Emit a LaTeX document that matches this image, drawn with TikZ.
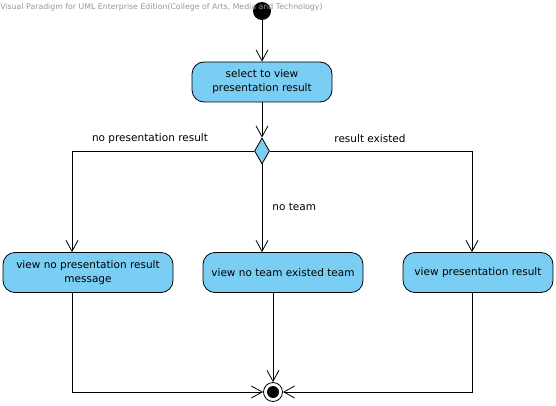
\documentclass[tikz,border=0pt]{standalone}
\usepackage{fontspec}
\setmainfont{DejaVu Sans}
\usetikzlibrary{shapes.geometric,arrows.meta}
\definecolor{actblue}{RGB}{122,206,244}
\definecolor{vpgray}{RGB}{150,150,150}
\begin{document}
\begin{tikzpicture}[x=1pt,y=-1pt,line width=0.8pt]
          \tikzstyle{act}=[draw,fill=actblue,rounded corners=12pt,minimum height=40pt,align=center,inner sep=2pt,font=\fontsize{10.5}{14}\selectfont];
          \tikzstyle{flow}=[-{Straight Barb[length=11pt,width=12pt]}];
          \tikzstyle{guard}=[font=\fontsize{10.5}{14}\selectfont,inner sep=0pt];
          \useasboundingbox (0,0) rectangle (556,406);
          %\node (name) at (x,y) [options] {text};
          \node (start) at (262,11) [circle,fill=black,minimum size=18pt,inner sep=0pt] {};
          \node (sel) at (262,82) [act,minimum width=140pt] {select to view\\presentation result};
          \node (dec) at (262,151) [diamond,draw,fill=actblue,minimum width=15pt,minimum height=26pt,inner sep=0pt] {};
          \node (noresult) at (88,272.5) [act,minimum width=170pt] {view no presentation result\\message};
          \node (noteam) at (283,272.5) [act,minimum width=160pt] {view no team existed team};
          \node (result) at (478,272.5) [act,minimum width=150pt] {view presentation result};
          \node (end) at (273,392) [circle,draw,fill=white,minimum size=19pt,inner sep=0pt] {};
          \node (endin) at (end) [circle,fill=black,minimum size=12pt,inner sep=0pt] {};
          %guards
          \node (g1) at (150,139) [guard] {no presentation result};
          \node (g2) at (370,139) [guard] {result existed};
          \node (g3) at (272,207) [guard,anchor=west] {no team};
          %flows
          \draw[flow] (start)--(sel);
          \draw[flow] (sel)--(dec);
          \draw[flow] (dec.west) -| ([xshift=-16pt]noresult.north);
          \draw[flow] (dec.south)--(dec.south |- noteam.north);
          \draw[flow] (dec.east) -| ([xshift=-6pt]result.north);
          \draw[flow] ([xshift=-16pt]noresult.south) |- (end.west);
          \draw[flow] (end |- noteam.south)--(end.north);
          \draw[flow] ([xshift=-6pt]result.south) |- (end.east);
          \node (vp) at (0,7) [anchor=west,inner sep=0pt,text=vpgray,font=\fontsize{7.8}{9}\selectfont] {Visual Paradigm for UML Enterprise Edition(College of Arts, Media and Technology)};
      \end{tikzpicture}
\end{document}
